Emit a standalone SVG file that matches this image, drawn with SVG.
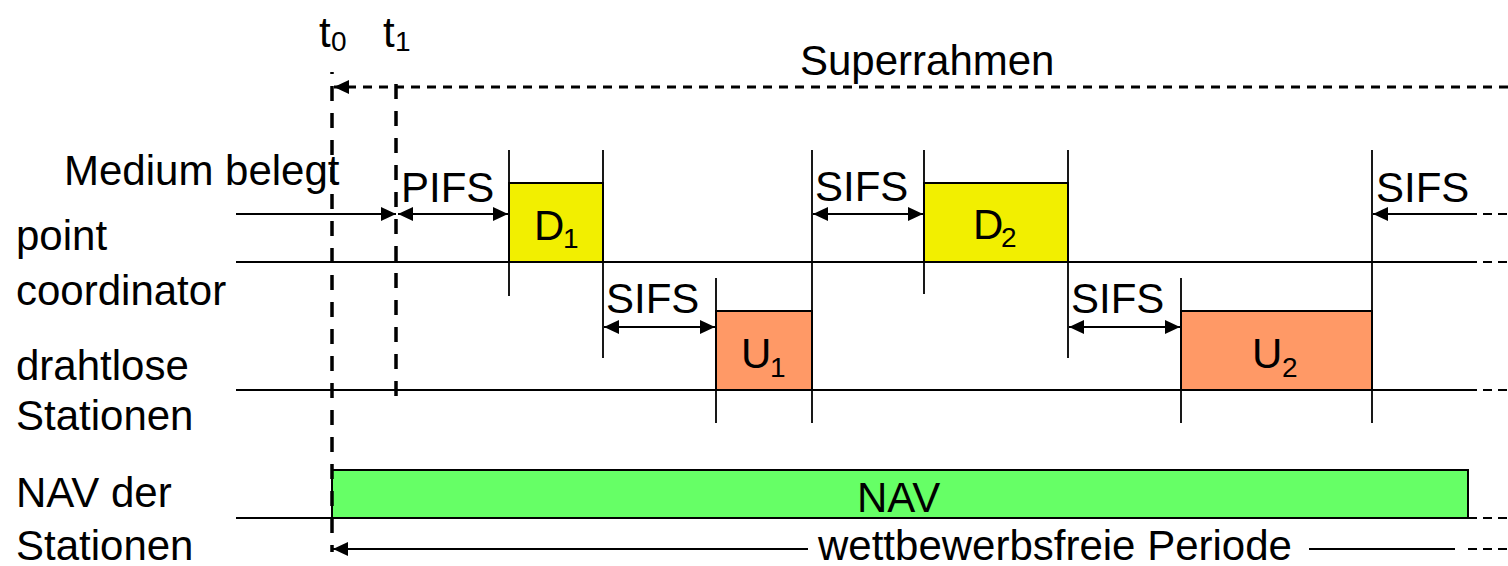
<svg xmlns="http://www.w3.org/2000/svg" width="1508" height="566" viewBox="0 0 1508 566">
<style>
text{font-family:"Liberation Sans",Arial,sans-serif;font-size:42px;fill:#000}
.sub{font-size:28px}
.ln{stroke:#000;stroke-width:2;fill:none}
.tk{stroke:#000;stroke-width:1.8;fill:none}
.dv{stroke:#000;stroke-width:3.5;fill:none;stroke-dasharray:15 12}
.dh{stroke:#000;stroke-width:3;fill:none;stroke-dasharray:9 7}
.dt{stroke:#000;stroke-width:2;fill:none;stroke-dasharray:9 6}
.box{stroke:#000;stroke-width:2}
</style>
<defs>
<marker id="ah" markerUnits="userSpaceOnUse" markerWidth="16" markerHeight="14" refX="15" refY="7" orient="auto-start-reverse" viewBox="0 0 16 14">
<path d="M0,0 L15,7 L0,14 z" fill="#000"/>
</marker>
</defs>
<rect width="1508" height="566" fill="#fff"/>

<g id="labels-left">
<text x="64" y="185">Medium belegt</text>
<text x="16" y="250">point</text>
<text x="16" y="305">coordinator</text>
<text x="16" y="380">drahtlose</text>
<text x="16" y="430">Stationen</text>
<text x="16" y="507">NAV der</text>
<text x="16" y="560">Stationen</text>
</g>

<g id="time-labels">
<text x="319" y="47">t</text><text class="sub" x="331" y="51">0</text>
<text x="383" y="47">t</text><text class="sub" x="395" y="51">1</text>
<text x="800" y="75">Superrahmen</text>
</g>

<g id="D1"><rect class="box" x="509" y="183" width="94" height="79" fill="#F2EF00"/><text x="534" y="240">D</text><text class="sub" x="563" y="248">1</text></g>
<g id="D2"><rect class="box" x="924" y="183" width="144" height="79" fill="#F2EF00"/><text x="973" y="239">D</text><text class="sub" x="1001" y="247">2</text></g>
<g id="U1"><rect class="box" x="716" y="311" width="96" height="79" fill="#FF9966"/><text x="741" y="368">U</text><text class="sub" x="770" y="377">1</text></g>
<g id="U2"><rect class="box" x="1181" y="311" width="191" height="79" fill="#FF9966"/><text x="1252" y="368">U</text><text class="sub" x="1282" y="377">2</text></g>
<g id="NAV"><rect class="box" x="332" y="470" width="1136" height="48" fill="#66FF66"/><text x="857" y="512">NAV</text></g>

<g id="connectors">
<path class="ln" d="M236,262 H1468 M236,390 H1468 M236,518 H332"/>
<path class="dt" d="M1468,262 H1508 M1468,390 H1508 M1468,518 H1508 M1468,214 H1508 M1468,549 H1508"/>
<path class="tk" d="M509,150 V296 M603,150 V358 M716,278 V423 M812,150 V423 M924,150 V294 M1068,150 V358 M1181,278 V423 M1372,150 V423"/>
<path class="dv" d="M332,72 V552" stroke-dashoffset="13"/>
<path class="dv" d="M396,84 V406"/>
<path class="dh" d="M1508,87 H334" marker-end="url(#ah)"/>
<path class="ln" d="M236,214 H396" marker-end="url(#ah)"/>
<path class="ln" d="M398,214 H508" marker-start="url(#ah)" marker-end="url(#ah)"/>
<path class="ln" d="M604,327 H715" marker-start="url(#ah)" marker-end="url(#ah)"/>
<path class="ln" d="M813,214 H923" marker-start="url(#ah)" marker-end="url(#ah)"/>
<path class="ln" d="M1069,327 H1180" marker-start="url(#ah)" marker-end="url(#ah)"/>
<path class="ln" d="M1468,214 H1373" marker-end="url(#ah)"/>
<path class="ln" d="M808,549 H333" marker-end="url(#ah)"/>
<path class="ln" d="M1309,549 H1455"/>
</g>

<g id="interval-labels">
<text x="401" y="202">PIFS</text>
<text x="606" y="313">SIFS</text>
<text x="815" y="201">SIFS</text>
<text x="1071" y="313">SIFS</text>
<text x="1376" y="202">SIFS</text>
<text x="818" y="560">wettbewerbsfreie Periode</text>
</g>
</svg>
